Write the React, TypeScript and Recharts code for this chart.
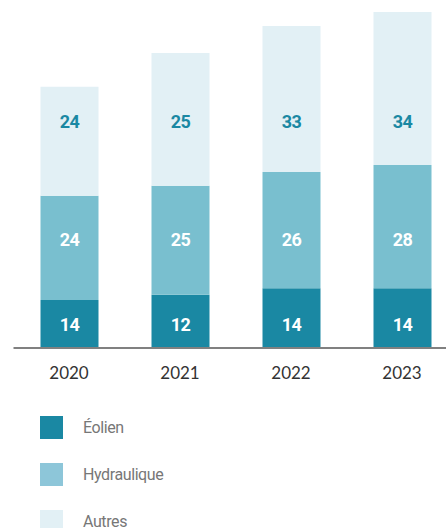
import { Bar, BarChart, LabelList, Legend, XAxis, YAxis } from 'recharts'

// years on the x axis
const years = ['2020', '2021', '2022', '2023']

// bar heights as drawn in the source (the printed labels are not to scale)
const eolien = [10.9, 12.1, 13.6, 13.6]
const hydraulique = [23.7, 24.8, 26.4, 28.0]
const autres = [24.8, 30.2, 33.2, 34.8]

// printed labels
const eolienLabels = [14, 12, 14, 14]
const hydrauliqueLabels = [24, 25, 26, 28]
const autresLabels = [24, 25, 33, 34]

const seriesOrder = ['Éolien', 'Hydraulique', 'Autres']

const DARK = '#1a88a3'
const MID = '#79bfcf'
const LIGHT = '#e2f0f5'
const legendFill: Record<string, string> = { Éolien: DARK, Hydraulique: '#8dc6d9', Autres: LIGHT }

const chartData = years.map((year, i) => ({
  year,
  eolien: eolien[i],
  hydraulique: hydraulique[i],
  autres: autres[i],
  eolienLabel: eolienLabels[i],
  hydrauliqueLabel: hydrauliqueLabels[i],
  autresLabel: autresLabels[i],
}))

const font = 'Roboto, sans-serif'

// labels sit on fixed rows in the original, not in segment centres
const rowLabel = (rowY: number, color: string) => (props: any) => {
  const { x, width, value } = props
  return (
    <text
      x={Number(x) + Number(width) / 2}
      y={rowY}
      textAnchor="middle"
      dominantBaseline="central"
      fill={color}
      fontFamily={font}
      fontWeight={700}
      fontSize={18}
      letterSpacing={-0.5}
    >
      {value}
    </text>
  )
}

const LegendList = ({ payload }: any) => {
  const items = [...(payload || [])].sort(
    (a: any, b: any) => seriesOrder.indexOf(a.value) - seriesOrder.indexOf(b.value)
  )
  return (
    <div style={{ display: 'flex', flexDirection: 'column', fontFamily: font }}>
      {items.map((p: any) => (
        <div key={p.value} style={{ display: 'flex', alignItems: 'center', height: 47 }}>
          <div style={{ width: 23, height: 23, background: legendFill[p.value] ?? p.color }} />
          <span style={{ marginLeft: 20, fontSize: 16, letterSpacing: -0.4, color: '#777' }}>{p.value}</span>
        </div>
      ))}
    </div>
  )
}

export default function App() {
  return (
    <div style={{ position: 'absolute', left: 0, top: 0, width: 446, height: 528, overflow: 'hidden', background: '#fff' }}>
      <BarChart
        width={458}
        height={528}
        data={chartData}
        margin={{ top: 5, right: 0.5, left: 13.5, bottom: 150 }}
        barSize={58}
      >
        <XAxis
          dataKey="year"
          height={30}
          tickLine={false}
          axisLine={{ stroke: '#808080', strokeWidth: 2 }}
          tickMargin={13}
          tick={{ fontSize: 17, fill: '#333', fontFamily: 'Lato, sans-serif' }}
        />
        <YAxis hide domain={[0, 78]} />
        <Legend
          layout="horizontal"
          verticalAlign="middle"
          align="center"
          wrapperStyle={{ top: 404, left: 40, width: 200 }}
          content={<LegendList />}
        />
        <Bar dataKey="eolien" name="Éolien" stackId="a" fill={DARK} isAnimationActive={false}>
          <LabelList dataKey="eolienLabel" content={rowLabel(324, '#fff')} />
        </Bar>
        <Bar dataKey="hydraulique" name="Hydraulique" stackId="a" fill={MID} isAnimationActive={false}>
          <LabelList dataKey="hydrauliqueLabel" content={rowLabel(239, '#fff')} />
        </Bar>
        <Bar dataKey="autres" name="Autres" stackId="a" fill={LIGHT} isAnimationActive={false}>
          <LabelList dataKey="autresLabel" content={rowLabel(121, DARK)} />
        </Bar>
      </BarChart>
    </div>
  )
}
